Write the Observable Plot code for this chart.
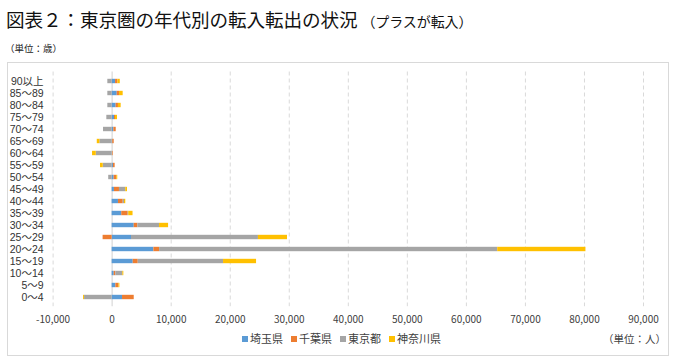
<!DOCTYPE html>
<html>
<head>
<meta charset="utf-8">
<script src="https://cdn.jsdelivr.net/npm/d3@7"></script>
<script src="https://cdn.jsdelivr.net/npm/@observablehq/plot@0.6"></script>
<style>
  html, body { margin: 0; padding: 0; background: #fff; }
  body { font-family: "Noto Sans CJK JP", "Noto Sans", sans-serif; }
  #wrap { position: relative; width: 675px; height: 360px; overflow: hidden; }
  #title { position: absolute; left: 6px; top: 5px; font-size: 18.6px; color: #111; white-space: nowrap; letter-spacing: -0.1px; }
  #title small { font-size: 14px; }
  #unit1 { position: absolute; left: 5px; top: 41px; font-size: 9.5px; color: #222; }
  #frame { position: absolute; left: 7px; top: 62px; width: 660px; height: 292px; border: 1px solid #d9d9d9; }
  #chart { position: absolute; left: 7px; top: 62px; }
  #legend { position: absolute; left: 0; width: 675px; top: 330px; display: flex; justify-content: center; gap: 8px; font-size: 11px; color: #404040; padding-left: 8px; box-sizing: border-box; }
  #legend span.sw { display: inline-block; width: 6px; height: 6px; margin-right: 2px; vertical-align: 1px; }
  #unit2 { position: absolute; right: 9px; top: 331px; font-size: 10.5px; color: #404040; white-space: nowrap; }
</style>
</head>
<body>
<div id="wrap">
  <div id="title">図表２：東京圏の年代別の転入転出の状況 <small>（プラスが転入）</small></div>
  <div id="unit1">（単位：歳）</div>
  <div id="frame"></div>
  <div id="chart"></div>
  <div id="legend"></div>
  <div id="unit2">（単位：人）</div>
</div>
<script>
const ages = ["90以上","85〜89","80〜84","75〜79","70〜74","65〜69","60〜64","55〜59","50〜54","45〜49","40〜44","35〜39","30〜34","25〜29","20〜24","15〜19","10〜14","5〜9","0〜4"];
const prefs = ["埼玉県","千葉県","東京都","神奈川県"];
const colors = ["#5B9BD5","#ED7D31","#A5A5A5","#FFC000"];
const saitama  = [580, 860, 680, 400, 290, 100, 50, 220, 340, 390, 1070, 1630, 3740, 3280, 7070, 3570, 350, 630, 1760];
const chiba    = [390, 390, 390, 170, 400, 250, 120, 290, 440, 850, 800, 1080, 610, -1530, 970, 850, 270, 510, 1980];
const tokyo    = [-730, -730, -730, -900, -1460, -2080, -2690, -1510, -580, 1070, 220, 100, 3680, 21500, 57270, 14450, 1190, 0, -4670];
const kanagawa = [410, 620, 460, 340, 0, -440, -630, -460, 170, 290, 220, 730, 1530, 4920, 14940, 5590, 170, 170, -170];
const xTicks = [-10000, 0, 10000, 20000, 30000, 40000, 50000, 60000, 70000, 80000, 90000];

const series = [saitama, chiba, tokyo, kanagawa];
const data = [];
ages.forEach((a, i) => {
  prefs.forEach((p, j) => data.push({age: a, pref: p, value: series[j][i]}));
});

const fmt = d => d.toLocaleString("en-US");

const chart = Plot.plot({
  width: 661,
  height: 270,
  marginLeft: 45.6,
  marginRight: 25,
  marginTop: 9.5,
  marginBottom: 25.8,
  style: { fontFamily: "\"Noto Sans CJK JP\", sans-serif", background: "transparent" },
  x: { domain: [-10000, 90000], label: null },
  y: { domain: ages, padding: 0, label: null },
  color: { domain: prefs, range: colors },
  marks: [
    Plot.ruleX(xTicks.filter(d => d !== 0), { stroke: "#d9d9d9", strokeDasharray: "4,3", strokeWidth: 1 }),
    Plot.ruleX([0], { stroke: "#d9d9d9", strokeWidth: 1.2 }),
    Plot.barX(data, Plot.stackX({ x: "value", y: "age", fill: "pref", order: prefs, insetTop: 3.8, insetBottom: 3.8 })),
    Plot.axisX({ ticks: xTicks, tickFormat: fmt, tickSize: 0, tickPadding: 9, fontSize: 10, fill: "#404040", label: null }),
    Plot.axisY({ tickSize: 0, tickPadding: 9.5, fontSize: 10.5, fontFamily: "\"Liberation Sans\", \"Noto Sans CJK JP\", sans-serif", fill: "#333", label: null })
  ]
});
document.getElementById("chart").appendChild(chart);

const legend = document.getElementById("legend");
prefs.forEach((p, i) => {
  const item = document.createElement("div");
  item.innerHTML = `<span class="sw" style="background:${colors[i]}"></span>${p}`;
  legend.appendChild(item);
});
</script>
</body>
</html>
